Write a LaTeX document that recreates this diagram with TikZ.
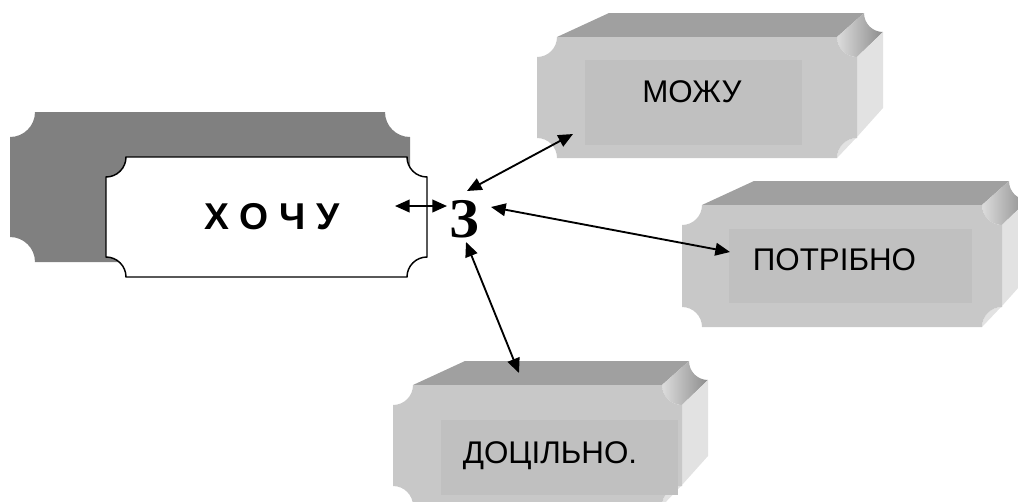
\documentclass[tikz,border=0pt]{standalone}
\usepackage{fontspec}
\setmainfont{Liberation Sans}
\newfontfamily\zefont{Liberation Serif}
\usetikzlibrary{arrows.meta}

\definecolor{shadowgray}{HTML}{808080}
\definecolor{topgray}{HTML}{A0A0A0}
\definecolor{facegray}{HTML}{C8C8C8}
\definecolor{innergray}{HTML}{C0C0C0}
\definecolor{sidegray}{HTML}{E2E2E2}
\definecolor{facetlight}{HTML}{DCDCDC}
\definecolor{facetdark}{HTML}{8C8C8C}

% plaque outline: rectangle (x1,y1)-(x2,y2) with concave quarter-circle corners of radius r
\newcommand{\plq}[5]{%
 ({#1+#5},#2) -- ({#3-#5},#2)
 .. controls ({#3-#5},{#2+0.5523*#5}) and ({#3-0.5523*#5},{#2+#5}) .. (#3,{#2+#5})
 -- (#3,{#4-#5})
 .. controls ({#3-0.5523*#5},{#4-#5}) and ({#3-#5},{#4-0.5523*#5}) .. ({#3-#5},#4)
 -- ({#1+#5},#4)
 .. controls ({#1+#5},{#4-0.5523*#5}) and ({#1+0.5523*#5},{#4-#5}) .. (#1,{#4-#5})
 -- (#1,{#2+#5})
 .. controls ({#1+0.5523*#5},{#2+#5}) and ({#1+#5},{#2+0.5523*#5}) .. ({#1+#5},#2)
 -- cycle}

% extruded plaque: front face (fl,ft)-(fr,fb), text panel (a,b)-(c,d)
\newcommand{\slab}[8]{%
 \fill[topgray] ({#1+20},#2) -- ({#1+72},{#2-24}) -- ({#3+7},{#2-24}) -- ({#3-20},#2) -- cycle;
 \shade[left color=facetlight, right color=facetdark]
   ({#3-20},#2) .. controls ({#3-20},{#2+11}) and ({#3-11},{#2+20}) .. (#3,{#2+20})
   -- ({#3+26},{#2-5}) .. controls ({#3+15.5},{#2-5}) and ({#3+7},{#2-13.5}) .. ({#3+7},{#2-24})
   -- cycle;
 \fill[sidegray] (#3,{#2+20}) -- ({#3+26},{#2-5}) -- ({#3+26},{#4-50}) -- (#3,{#4-21}) -- cycle;
 \fill[sidegray] (#3,{#4-21}) -- (#3,{#4-20})
   .. controls ({#3-11},{#4-20}) and ({#3-20},{#4-11}) .. ({#3-20},#4) -- cycle;
 \fill[facegray] \plq{#1}{#2}{#3}{#4}{20};
 \fill[innergray] (#5,#6) rectangle (#7,#8);
}

\begin{document}
\begin{tikzpicture}[x=0.75pt,y=-0.75pt,
  label/.style={inner sep=0pt, anchor=base, font=\fontsize{23.5}{26}\selectfont},
  biarrow/.style={line width=1.4pt, {Triangle[length=11pt,width=9.5pt]}-{Triangle[length=11pt,width=9.5pt]}}]
\useasboundingbox (0,0) rectangle (1018,501);
\clip (0,0) rectangle (1018,501);

% main plaque with its shadow
\fill[shadowgray] \plq{10}{112}{410}{262}{25};
\draw[line width=1.1pt, fill=white] \plq{106}{157}{427}{277}{20};
\node[inner sep=0pt, anchor=base, font=\fontsize{28}{30}\selectfont\bfseries] (want) at (272,229) {Х О Ч У};

% three extruded plaques
\slab{537}{37}{857}{158}{585}{60}{802}{145}
\slab{682}{205}{1002}{327}{729}{229}{972}{303}
\slab{393}{385}{682}{506}{441}{420}{678}{495}

\node[label] (can) at (692,102) {МОЖУ};
\node[label] (need) at (834.5,270) {ПОТРІБНО};
\node[label] (fit) at (550,463) {ДОЦІЛЬНО.};

% centre letter
\node[inner sep=0pt, anchor=base, font=\zefont\fontsize{42}{44}\selectfont\bfseries] (ze) at (464,237) {З};

% arrow end points
\coordinate (wantE) at (395,206);
\coordinate (zeW) at (447,206);
\coordinate (zeNE) at (467,191);
\coordinate (canW) at (573,134);
\coordinate (zeE) at (491,207);
\coordinate (needW) at (730,252);
\coordinate (zeS) at (466,242);
\coordinate (fitN) at (519,373);

\draw[biarrow] (wantE) -- (zeW);
\draw[biarrow] (zeNE) -- (canW);
\draw[biarrow] (zeE) -- (needW);
\draw[biarrow] (zeS) -- (fitN);
\end{tikzpicture}
\end{document}
